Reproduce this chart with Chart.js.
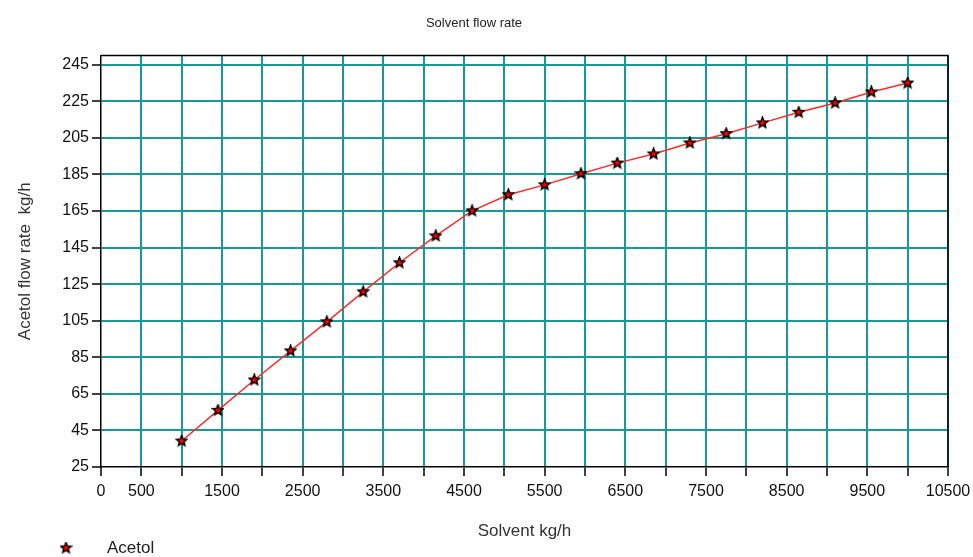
<!DOCTYPE html>
<html>
<head>
<meta charset="utf-8">
<script src="https://cdn.jsdelivr.net/npm/chart.js@4.4.0/dist/chart.umd.min.js"></script>
<style>
  html, body { margin: 0; padding: 0; background: #fff; }
  #wrap { width: 973px; height: 557px; }
</style>
</head>
<body>
<div id="wrap"><canvas id="chart"></canvas></div>
<script>
// data
const solvent = [1000, 1450, 1900, 2350, 2800, 3250, 3700, 4150, 4600, 5050, 5500,
                 5950, 6400, 6850, 7300, 7750, 8200, 8650, 9100, 9550, 10000];
const acetol = [39.2, 56.0, 72.6, 88.5, 104.4, 120.8, 136.7, 151.4, 165.1, 173.9, 179.3,
                185.4, 191.2, 196.2, 202.2, 207.3, 213.2, 219.0, 224.1, 230.1, 235.0];
const xTicks = [0, 500, 1000, 1500, 2000, 2500, 3000, 3500, 4000, 4500, 5000, 5500,
                6000, 6500, 7000, 7500, 8000, 8500, 9000, 9500, 10000, 10500];
const yTicks = [25, 45, 65, 85, 105, 125, 145, 165, 185, 205, 225, 245];

const teal = '#179a96';
const sans = '"Liberation Sans", Arial, sans-serif';

// filled red star with black outline
function makeStar(size) {
  const c = document.createElement('canvas');
  c.width = size; c.height = size;
  const g = c.getContext('2d');
  const cx = size / 2, cy = size / 2, ro = size / 2 - 1, ri = ro * 0.45;
  g.beginPath();
  for (let i = 0; i < 10; i++) {
    const r = i % 2 ? ri : ro;
    const a = -Math.PI / 2 + i * Math.PI / 5;
    g.lineTo(cx + r * Math.cos(a), cy + r * Math.sin(a));
  }
  g.closePath();
  g.fillStyle = '#ff0000';
  g.fill();
  g.lineWidth = 1.5;
  g.strokeStyle = '#000';
  g.stroke();
  return c;
}
const star = makeStar(13);

// top and right border of the plot
const frame = {
  id: 'frame',
  beforeDatasetsDraw(chart) {
    const {ctx, chartArea: a} = chart;
    ctx.save();
    ctx.strokeStyle = '#000';
    ctx.lineWidth = 1.5;
    ctx.beginPath();
    ctx.moveTo(a.left, a.top);
    ctx.lineTo(a.right, a.top);
    ctx.lineTo(a.right, a.bottom);
    ctx.stroke();
    ctx.restore();
  }
};

// legend in the lower left corner
const cornerLegend = {
  id: 'cornerLegend',
  afterDraw(chart) {
    const ctx = chart.ctx;
    ctx.save();
    ctx.drawImage(star, 66 - 6.5, 548 - 6.5);
    ctx.font = '17px ' + sans;
    ctx.fillStyle = '#222';
    ctx.textBaseline = 'middle';
    ctx.fillText(chart.data.datasets[0].label, 107, 548);
    ctx.restore();
  }
};

const lineData = {
  datasets: [{
    label: 'Acetol',
    data: solvent.map((x, i) => ({x: x, y: acetol[i]})),
    borderColor: '#ff2a2a',
    borderWidth: 1.5,
    pointStyle: star,
    tension: 0
  }]
};

const lineConfig = {
  type: 'line',
  data: lineData,
  plugins: [frame, cornerLegend],
  options: {
    responsive: true,
    maintainAspectRatio: false,
    animation: false,
    layout: { padding: { left: 0, right: 25, top: 0, bottom: 15 } },
    plugins: {
      legend: { display: false },
      tooltip: { enabled: false },
      title: {
        display: true,
        text: 'Solvent flow rate',
        color: '#222',
        font: { family: sans, size: 13, weight: 'normal' },
        padding: { top: 16, bottom: 24 }
      }
    },
    scales: {
      x: {
        type: 'linear',
        min: 0,
        max: 10500,
        afterBuildTicks: s => { s.ticks = xTicks.map(v => ({value: v})); },
        afterFit: s => { s.height = 75; s.paddingLeft = 0; s.paddingRight = 0; },
        ticks: {
          autoSkip: false,
          maxRotation: 0,
          padding: 6,
          color: '#111',
          font: { family: sans, size: 16 },
          callback: v => (v === 0 || v % 1000 === 500) ? String(v) : ''
        },
        grid: {
          color: c => (c.tick && c.tick.value === 0) ? 'rgba(0,0,0,0)' : teal,
          lineWidth: 2,
          tickColor: '#000',
          tickLength: 9,
          tickWidth: 1.5
        },
        border: { color: '#000', width: 1.5 },
        title: {
          display: true,
          text: 'Solvent kg/h',
          color: '#333',
          font: { family: sans, size: 17 },
          padding: { top: 0, bottom: 0 }
        }
      },
      y: {
        min: 25,
        max: 250,
        afterBuildTicks: s => { s.ticks = yTicks.map(v => ({value: v})); },
        afterFit: s => { s.width = 101; },
        ticks: {
          autoSkip: false,
          padding: 3,
          color: '#111',
          font: { family: sans, size: 16 }
        },
        grid: {
          color: c => (c.tick && c.tick.value === 25) ? 'rgba(0,0,0,0)' : teal,
          lineWidth: 2,
          tickColor: '#000',
          tickLength: 9,
          tickWidth: 1.5
        },
        border: { color: '#000', width: 1.5 },
        title: {
          display: true,
          text: 'Acetol flow rate  kg/h',
          color: '#333',
          font: { family: sans, size: 17 },
          padding: { top: 15, bottom: 0 }
        }
      }
    }
  }
};

var chart_area = document.getElementById('chart');
var myLineChart = new Chart(chart_area, lineConfig);
</script>
</body>
</html>
